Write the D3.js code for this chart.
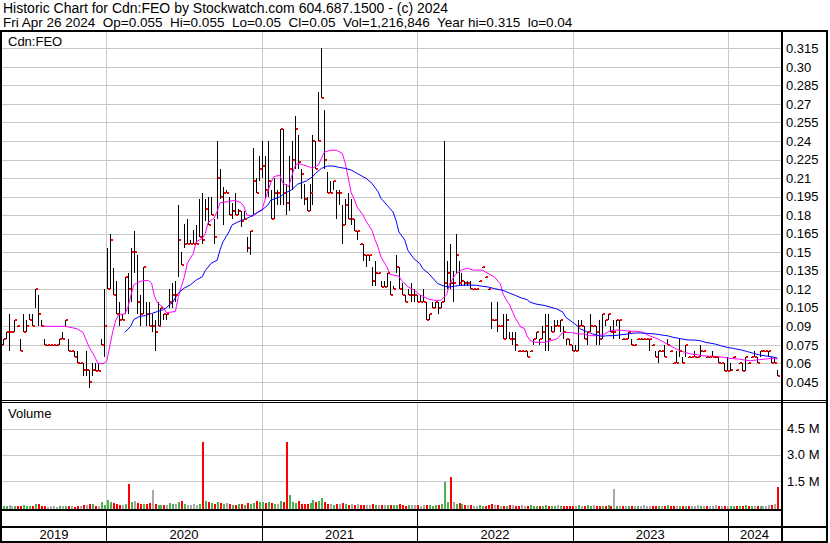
<!DOCTYPE html>
<html><head><meta charset="utf-8">
<script src="https://cdn.jsdelivr.net/npm/d3@7"></script>
<style>
body{margin:0;background:#fff}
svg{display:block}
text{font-family:Arial,"Liberation Sans",sans-serif;fill:#000}
</style>
</head><body>
<svg id="chart" width="830" height="543"></svg>
<script>
// ---------------- DATA (weekly, first week ending 2019-04-26) ----------------
const firstWeek = "2019-04-26";
const high = [
.08,.08,.085,.10,.085,.095,.09,.08,.10,.095,
.10,.10,.12,.115,.095,.08,.075,.075,.075,.075,
.08,.085,.095,.08,.07,.07,.07,.06,.06,.07,
.055,.06,.06,.06,.08,.12,.153,.165,.137,.127,
.11,.10,.13,.133,.153,.167,.148,.115,.138,.11,
.11,.10,.095,.11,.105,.10,.10,.12,.125,.127,
.188,.15,.173,.177,.16,.168,.172,.193,.198,.193,
.195,.195,.177,.24,.217,.2025,.20,.195,.19,.198,
.185,.183,.183,.1625,.167,.234,.21,.228,.24,.228,
.24,.20,.21,.20,.25,.25,.205,.228,.24,.26,
.245,.217,.205,.195,.205,.245,.24,.28,.315,.265,
.215,.208,.208,.20,.20,.188,.193,.198,.193,.177,
.167,.157,.157,.148,.148,.138,.143,.133,.127,.127,
.133,.127,.123,.148,.138,.125,.115,.12,.125,.12,
.115,.115,.12,.11,.10,.11,.11,.11,.11,.24,
.143,.157,.135,.165,.143,.133,.127,.127,.127,.12,
.12,.127,.138,.13,.12,.11,.095,.11,.09,.10,
.10,.085,.085,.085,.07,.07,.07,.07,.07,.08,
.085,.08,.09,.10,.10,.09,.095,.095,.095,.09,
.08,.08,.075,.075,.095,.095,.09,.085,.10,.09,
.09,.095,.10,.095,.10,.09,.095,.095,.095,.08,
.08,.085,.08,.075,.08,.08,.08,.08,.08,.075,
.07,.07,.07,.075,.08,.07,.06,.07,.08,.065,
.075,.065,.065,.07,.065,.075,.07,.065,.065,.07,
.065,.065,.06,.06,.065,.06,.065,.055,.06,.06,
.065,.06,.065,.07,.065,.07,.07,.07,.07,.065,
.065,.055];
const low = [
.075,.075,.08,.07,.085,.085,.09,.07,.085,.085,
.095,.09,.105,.09,.09,.075,.075,.075,.075,.075,
.075,.08,.09,.07,.07,.065,.06,.06,.05,.05,
.04,.05,.054,.054,.075,.065,.12,.12,.115,.10,
.09,.095,.10,.10,.11,.133,.10,.09,.10,.09,
.09,.085,.07,.09,.09,.095,.095,.105,.105,.11,
.13,.14,.153,.157,.157,.157,.157,.1625,.157,.175,
.172,.18,.157,.177,.193,.172,.198,.18,.177,.18,
.18,.17,.177,.15,.148,.18,.198,.208,.21,.193,
.195,.177,.177,.188,.188,.188,.18,.183,.20,.217,
.217,.193,.188,.183,.183,.188,.217,.24,.275,.217,
.198,.198,.20,.177,.188,.157,.172,.177,.172,.167,
.16,.157,.143,.138,.143,.123,.123,.133,.122,.122,
.122,.115,.12,.133,.12,.115,.11,.115,.11,.11,
.11,.11,.11,.095,.095,.105,.105,.10,.105,.11,
.12,.12,.11,.133,.123,.123,.123,.123,.12,.12,
.12,.127,.138,.13,.12,.088,.095,.085,.09,.08,
.08,.08,.075,.07,.07,.07,.07,.065,.07,.075,
.08,.075,.08,.07,.07,.085,.085,.09,.085,.08,
.075,.075,.07,.07,.07,.09,.08,.075,.085,.09,
.075,.075,.08,.09,.095,.085,.08,.09,.08,.08,
.08,.08,.075,.075,.08,.08,.08,.08,.07,.075,
.065,.06,.07,.065,.075,.07,.06,.06,.065,.06,
.065,.065,.065,.065,.065,.065,.07,.065,.065,.065,
.065,.06,.06,.054,.054,.054,.065,.055,.06,.054,
.054,.06,.065,.065,.06,.065,.07,.07,.065,.06,
.06,.05];
const close = [
.075,.08,.085,.085,.085,.095,.09,.07,.085,.09,
.095,.09,.12,.10,.09,.075,.075,.075,.075,.075,
.08,.08,.095,.07,.07,.065,.06,.06,.055,.055,
.045,.055,.054,.054,.075,.09,.12,.16,.115,.10,
.095,.095,.13,.12,.15,.15,.11,.10,.138,.10,
.09,.09,.085,.09,.105,.10,.10,.11,.115,.115,
.16,.14,.157,.157,.157,.157,.157,.1625,.16,.185,
.172,.18,.1625,.21,.195,.198,.198,.18,.183,.18,
.183,.175,.177,.153,.167,.208,.198,.217,.22,.20,
.208,.177,.198,.198,.25,.198,.19,.217,.225,.25,
.223,.213,.193,.183,.198,.24,.217,.24,.275,.225,
.198,.198,.208,.198,.198,.172,.188,.177,.177,.167,
.167,.157,.148,.148,.148,.127,.133,.133,.122,.122,
.133,.115,.12,.138,.12,.115,.11,.115,.115,.115,
.11,.11,.11,.095,.10,.105,.11,.105,.11,.125,
.133,.125,.125,.148,.125,.127,.125,.125,.12,.12,
.12,.127,.138,.13,.12,.095,.095,.09,.09,.08,
.095,.08,.08,.075,.07,.07,.07,.065,.07,.08,
.085,.08,.085,.09,.08,.085,.09,.09,.095,.085,
.08,.075,.07,.07,.09,.09,.08,.085,.09,.09,
.085,.08,.10,.095,.10,.085,.085,.095,.095,.08,
.08,.085,.075,.075,.08,.08,.08,.08,.08,.075,
.065,.07,.07,.065,.075,.07,.06,.06,.07,.06,
.075,.065,.065,.065,.065,.07,.07,.065,.065,.065,
.065,.06,.06,.054,.054,.055,.065,.055,.06,.054,
.065,.06,.065,.065,.06,.07,.07,.07,.07,.06,
.06,.05];
// weekly volume, thousands of shares
const volumeK = [
40,60,30,120,50,80,30,60,90,40, 70,60,150,180,60,30,20,40,30,20,
50,60,40,80,30,20,60,50,110,90, 180,160,70,60,260,90,
380,300,220,180,120,90,150,1330,280,320, 240,160,200,180,210,1000,160,140,90,120,
110,220,180,150,260,340,180,120,140,160, 110,200,3700,320,260,240,180,300,210,160,
250,190,140,120,200,170,130,220,180,240, 330,260,
280,220,300,240,180,160,320,260,3700,700, 280,240,320,200,160,150,220,380,260,340,
520,300,200,160,140,180,150,220,180,130, 150,120,160,140,110,100,130,150,90,120,
140,110,100,90,130,120,150,100,80,110, 90,120,
100,80,120,90,110,70,130,90,150,1450, 260,1700,300,200,240,150,130,110,90,80,
70,100,60,80,120,150,110,90,70,80, 60,100,120,80,70,90,60,80,100,70,
60,50,80,90,70,60,80,110,70,60, 80,50,
60,80,100,70,50,90,60,120,80,60, 70,50,90,80,1050,70,60,40,80,50,
60,70,40,60,90,50,40,60,80,50, 60,70,90,40,50,60,80,50,40,70,
60,50,90,60,40,80,50,60,100,70, 50,60,
60,50,70,80,60,50,90,60,70,40, 60,80,50,70,90,120,160,1150];
// short moving average (magenta): week index, value
const maShortWeek = [14,22,26,28,30,32,33,35,36,37,38,39,40,42,43,45,46,48,50,51,52,53,55,56,59,60,61,62,63,65,66,68,69,70,72,73,74,77,79,81,82,83,85,87,88,89,91,92,94,95,97,99,100,102,104,105,107,108,109,111,113,115,116,117,118,119,120,122,123,125,126,127,128,130,131,134,135,137,139,141,144,146,148,150,151,153,155,157,159,162,163,166,168,169,170,171,173,175,176,177,178,180,183,185,187,189,192,194,196,198,201,203,205,207,210,212,214,216,218,221,223,225,227,230,232,234,236,239,241,243,245,248,250,252,254,257,259,261];
const maShortVal = [.09,.09,.088,.085,.0735,.065,.06,.06,.062,.074,.086,.095,.0995,.10,.105,.1235,.125,.127,.127,.125,.114,.109,.105,.101,.102,.114,.122,.13,.141,.149,.1585,.161,.165,.174,.1775,.183,.19,.191,.192,.19,.187,.18,.179,.183,.184,.192,.206,.211,.2125,.206,.203,.219,.222,.2205,.219,.218,.2205,.226,.231,.2325,.2325,.23,.222,.21,.198,.193,.1865,.18,.175,.1675,.16,.154,.146,.138,.132,.1305,.127,.122,.1195,.1155,.112,.111,.111,.1155,.1245,.132,.1355,.137,.1355,.1355,.134,.13,.1245,.116,.1115,.108,.097,.089,.0886,.0824,.0784,.077,.077,.0784,.0797,.085,.085,.0838,.0838,.0824,.0824,.0838,.0865,.087,.0865,.086,.086,.085,.0824,.0797,.077,.0743,.0716,.0689,.0676,.067,.0662,.0657,.0654,.0649,.064,.0635,.0627,.0622,.0627,.0635,.064,.0635];
// long moving average (blue): week index, value
const maLongWeek = [42,44,45,47,49,51,53,55,56,57,58,59,60,62,64,66,68,69,71,73,74,75,76,77,78,80,82,84,86,88,90,91,94,96,98,100,103,105,106,108,110,112,114,116,118,120,123,125,127,128,130,132,133,134,136,137,139,141,142,144,146,147,149,151,153,155,157,160,162,164,166,169,171,173,175,177,178,180,183,185,187,189,190,193,195,197,199,202,204,206,208,211,213,215,217,220,222,224,226,229,231,233,235,237,240,242,244,246,249,251,253,255,258,260,261];
const maLongVal = [.085,.09,.0954,.098,.0987,.1003,.102,.1035,.105,.1076,.109,.113,.117,.121,.1235,.1275,.13,.135,.141,.1435,.152,.1585,.1625,.1665,.172,.1745,.1765,.1785,.1815,.184,.188,.192,.1947,.198,.2005,.205,.2077,.211,.2137,.2178,.2197,.2197,.2186,.2178,.2165,.2137,.2097,.2056,.1989,.1935,.188,.1826,.1759,.1664,.1597,.1516,.1448,.1408,.1367,.1327,.1273,.1246,.1226,.1218,.1226,.1232,.1234,.1232,.1224,.1218,.1205,.1191,.117,.1151,.113,.1116,.1095,.108,.1068,.1054,.104,.1015,.0973,.092,.0878,.0857,.0838,.0819,.0824,.0824,.083,.0838,.0846,.0846,.0843,.0838,.083,.0824,.0811,.0797,.0789,.0789,.0784,.077,.0757,.0743,.073,.0722,.0708,.0695,.0681,.0668,.0657,.0649,.0643];
const priceTicks = [0.045,0.06,0.075,0.09,0.105,0.12,0.135,0.15,0.165,0.18,0.195,0.21,0.225,0.24,0.255,0.27,0.285,0.30,0.315];
const priceTickLabels = ["0.045","0.06","0.075","0.09","0.105","0.12","0.135","0.15","0.165","0.18","0.195","0.21","0.225","0.24","0.255","0.27","0.285","0.30","0.315"];
const volTicks = [1.5e6,3.0e6,4.5e6];
const volTickLabels = ["1.5 M","3.0 M","4.5 M"];
const yearStarts = ["2020-01-01","2021-01-01","2022-01-01","2023-01-01","2024-01-01"];
const yearLabels = ["2019","2020","2021","2022","2023","2024"];
const title1 = "Historic Chart for Cdn:FEO by Stockwatch.com 604.687.1500 - (c) 2024";
const title2 = "Fri Apr 26 2024  Op=0.055  Hi=0.055  Lo=0.05  Cl=0.05  Vol=1,216,846  Year hi=0.315  lo=0.04";
const symbol = "Cdn:FEO";
const volTitle = "Volume";

// ---------------- DRAWING ----------------
const svg = d3.select("#chart");
const parse = d3.timeParse("%Y-%m-%d");
const start = parse(firstWeek);
const dateOf = w => d3.timeDay.offset(start, 7 * w);
const dates = close.map((_, i) => dateOf(i));

const L = 2, R = 781;            // plot area horizontal extent
const pTop = 32, pBot = 400;     // price panel
const vTop = 403, vBot = 509;    // volume panel

const x = d3.scaleTime().domain([parse("2020-01-01"), parse("2024-01-01")]).range([106, 728]);
const yP = d3.scaleLinear().domain([0.045, 0.315]).range([381.9, 48.3]);
const yV = d3.scaleLinear().domain([0, 4.5e6]).range([507, 428.5]);

svg.append("rect").attr("width", 830).attr("height", 543).attr("fill", "#fff");

// header
svg.append("text").attr("x", 3).attr("y", 13).attr("font-size", 14).style("white-space", "pre").text(title1);
svg.append("text").attr("x", 3).attr("y", 27).attr("font-size", 13.5).style("white-space", "pre").text(title2);

const defs = svg.append("defs");
defs.append("clipPath").attr("id", "clipP").append("rect").attr("x", L).attr("y", pTop).attr("width", R - L).attr("height", pBot - pTop);
defs.append("clipPath").attr("id", "clipV").append("rect").attr("x", L).attr("y", vTop).attr("width", R - L).attr("height", vBot - vTop);

const grid = svg.append("g").attr("stroke", "#c8c8c8").attr("stroke-width", 1).attr("shape-rendering", "crispEdges");
priceTicks.forEach(v => {
  const yy = Math.round(yP(v)) + 0.5;
  grid.append("line").attr("x1", L).attr("x2", R).attr("y1", yy).attr("y2", yy);
});
volTicks.forEach(v => {
  const yy = Math.round(yV(v)) + 0.5;
  grid.append("line").attr("x1", L).attr("x2", R).attr("y1", yy).attr("y2", yy);
});
yearStarts.forEach(s => {
  const xx = Math.round(x(parse(s))) + 0.5;
  grid.append("line").attr("x1", xx).attr("x2", xx).attr("y1", pTop).attr("y2", pBot);
  grid.append("line").attr("x1", xx).attr("x2", xx).attr("y1", vTop).attr("y2", vBot);
});

// panel labels
svg.append("text").attr("x", 8).attr("y", 46).attr("font-size", 13).text(symbol);
svg.append("text").attr("x", 8).attr("y", 418).attr("font-size", 13).text(volTitle);

// price bars
const gp = svg.append("g").attr("clip-path", "url(#clipP)").attr("shape-rendering", "crispEdges");
gp.selectAll("rect.hl").data(dates).join("rect").attr("class", "hl")
  .attr("x", d => Math.round(x(d)))
  .attr("y", (d, i) => Math.round(yP(high[i])))
  .attr("width", 1)
  .attr("height", (d, i) => Math.max(1, Math.round(yP(low[i])) - Math.round(yP(high[i]))))
  .attr("fill", "#000");

// moving averages
const lineS = d3.line().x((w) => x(dateOf(w))).y((w, i) => yP(maShortVal[i]));
gp.append("path").attr("d", lineS(maShortWeek)).attr("fill", "none").attr("stroke", "#ff00ff").attr("stroke-width", 1).attr("shape-rendering", "auto");
const lineL = d3.line().x((w) => x(dateOf(w))).y((w, i) => yP(maLongVal[i]));
gp.append("path").attr("d", lineL(maLongWeek)).attr("fill", "none").attr("stroke", "#0000ff").attr("stroke-width", 1).attr("shape-rendering", "auto");

gp.selectAll("rect.cl").data(dates).join("rect").attr("class", "cl")
  .attr("x", d => Math.round(x(d)) + 1)
  .attr("y", (d, i) => Math.round(yP(close[i])) - 1)
  .attr("width", 2).attr("height", 2)
  .attr("fill", "#ff0000");

// volume bars
const gv = svg.append("g").attr("clip-path", "url(#clipV)").attr("shape-rendering", "crispEdges");
gv.selectAll("rect").data(dates).join("rect")
  .attr("x", d => Math.round(x(d)))
  .attr("y", (d, i) => Math.round(yV(volumeK[i] * 1000)))
  .attr("width", 2)
  .attr("height", (d, i) => 509 - Math.round(yV(volumeK[i] * 1000)))
  .attr("fill", (d, i) => i === 0 || close[i] === close[i - 1] ? "#a8a8a8" : (close[i] > close[i - 1] ? "#4caf50" : "#ff0000"));

// right axes
const axP = d3.axisRight(yP).tickValues(priceTicks).tickFormat((d, i) => priceTickLabels[i]).tickSize(0).tickPadding(0);
const gAxP = svg.append("g").attr("transform", "translate(786,0)").call(axP);
gAxP.select(".domain").remove();
gAxP.selectAll("text").attr("font-size", 13).attr("font-family", "Arial, 'Liberation Sans', sans-serif").attr("fill", "#000");

const axV = d3.axisRight(yV).tickValues(volTicks).tickFormat((d, i) => volTickLabels[i]).tickSize(0).tickPadding(0);
const gAxV = svg.append("g").attr("transform", "translate(787,0)").call(axV);
gAxV.select(".domain").remove();
gAxV.selectAll("text").attr("font-size", 13).attr("font-family", "Arial, 'Liberation Sans', sans-serif").attr("fill", "#000");

// frame
const fr = svg.append("g").attr("fill", "#000").attr("shape-rendering", "crispEdges");
fr.append("rect").attr("x", 0).attr("y", 30).attr("width", 828).attr("height", 2);
fr.append("rect").attr("x", 0).attr("y", 30).attr("width", 2).attr("height", 513);
fr.append("rect").attr("x", 781).attr("y", 30).attr("width", 2).attr("height", 513);
fr.append("rect").attr("x", 826).attr("y", 30).attr("width", 2).attr("height", 513);
fr.append("rect").attr("x", 0).attr("y", 400).attr("width", 828).attr("height", 1);
fr.append("rect").attr("x", 0).attr("y", 402).attr("width", 828).attr("height", 1);
fr.append("rect").attr("x", 0).attr("y", 509).attr("width", 783).attr("height", 2);
fr.append("rect").attr("x", 0).attr("y", 526).attr("width", 828).attr("height", 2);
fr.append("rect").attr("x", 0).attr("y", 541).attr("width", 828).attr("height", 2);

// x axis (years)
const bounds = [L, ...yearStarts.map(s => x(parse(s))), R];
yearStarts.forEach(s => {
  fr.append("rect").attr("x", Math.round(x(parse(s)))).attr("y", 511).attr("width", 1).attr("height", 30);
});
yearLabels.forEach((lab, i) => {
  svg.append("text").attr("x", (bounds[i] + bounds[i + 1]) / 2).attr("y", 539)
    .attr("text-anchor", "middle").attr("font-size", 13).text(lab);
});
</script>
</body></html>
